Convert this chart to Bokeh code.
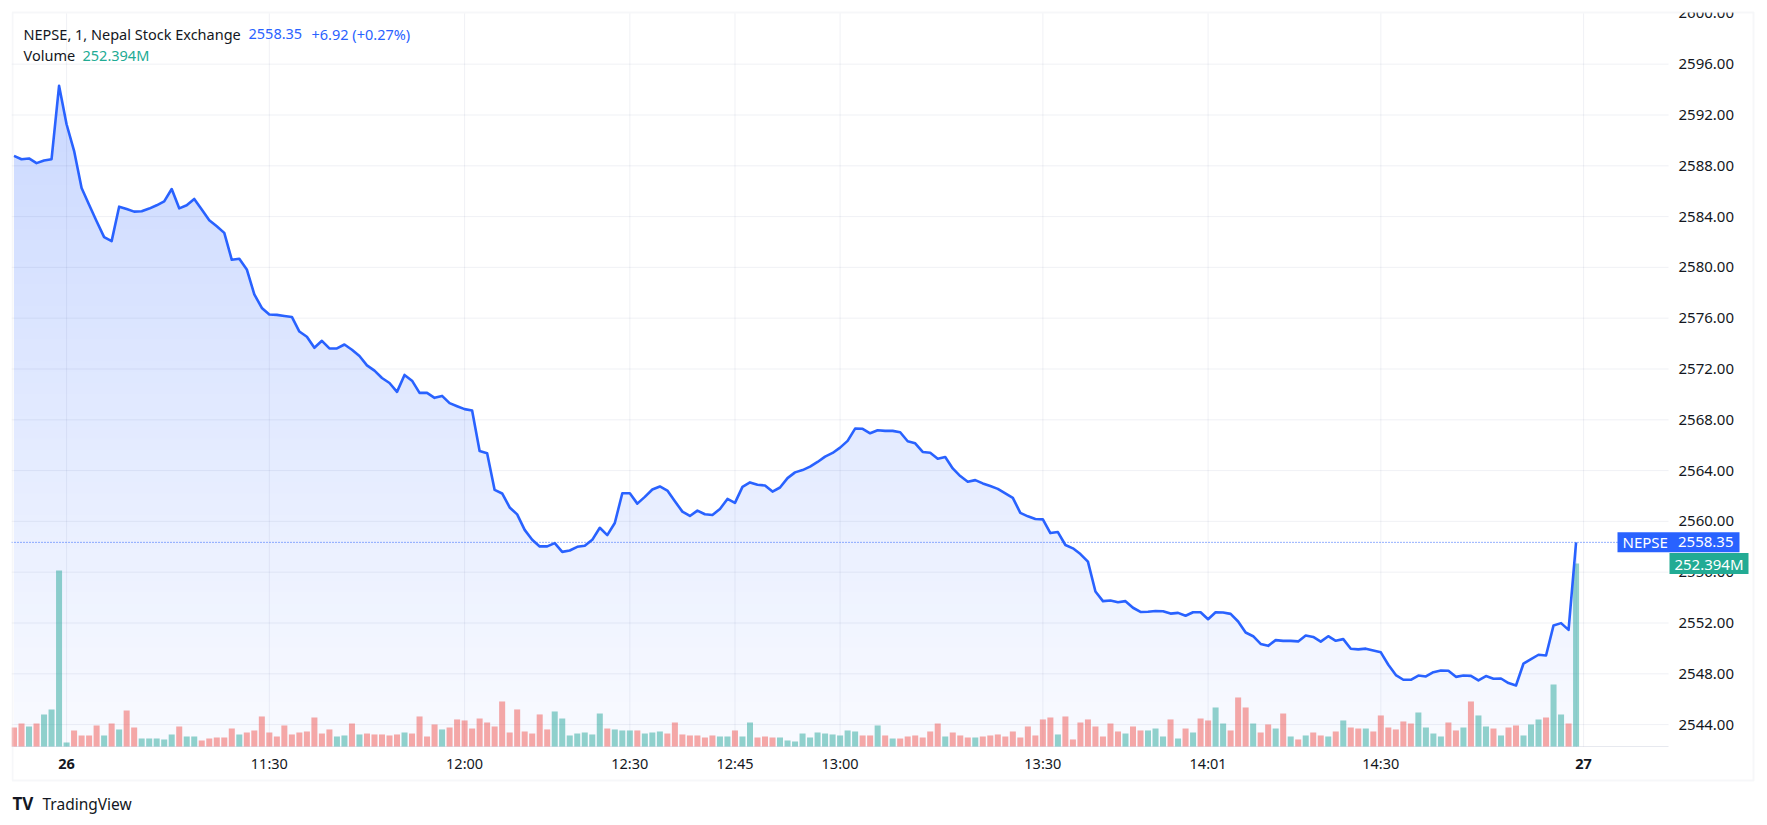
import numpy as np
from bokeh.plotting import figure
from bokeh.models import (Range1d, FixedTicker, NumeralTickFormatter, Label,
                          BoxAnnotation, ColumnDataSource)
from bokeh.embed import file_html
from bokeh.resources import INLINE

# ---------------- data ----------------
price = [
    2588.78, 2588.52, 2588.58, 2588.21, 2588.42, 2588.52, 2594.30, 2591.27, 2589.18, 2586.25,
    2584.94, 2583.63, 2582.38, 2582.07, 2584.78, 2584.60, 2584.39, 2584.42, 2584.63, 2584.89,
    2585.20, 2586.17, 2584.65, 2584.89, 2585.39, 2584.55, 2583.71, 2583.24, 2582.72, 2580.60,
    2580.68, 2579.84, 2577.88, 2576.81, 2576.29, 2576.26, 2576.18, 2576.10, 2574.95, 2574.54,
    2573.67, 2574.22, 2573.62, 2573.62, 2573.93, 2573.52, 2573.02, 2572.29, 2571.87, 2571.29,
    2570.90, 2570.20, 2571.53, 2571.08, 2570.12, 2570.12, 2569.73, 2569.88, 2569.31, 2569.07,
    2568.84, 2568.73, 2565.54, 2565.36, 2562.48, 2562.20, 2561.10, 2560.55, 2559.33, 2558.55,
    2558.03, 2558.03, 2558.29, 2557.60, 2557.71, 2558.00, 2558.08, 2558.55, 2559.50, 2558.92,
    2559.87, 2562.22, 2562.22, 2561.40, 2561.93, 2562.51, 2562.75, 2562.43, 2561.59, 2560.77,
    2560.43, 2560.85, 2560.56, 2560.51, 2560.98, 2561.77, 2561.46, 2562.72, 2563.07, 2562.88,
    2562.83, 2562.35, 2562.67, 2563.41, 2563.86, 2564.04, 2564.31, 2564.68, 2565.10, 2565.39,
    2565.81, 2566.34, 2567.31, 2567.29, 2566.94, 2567.18, 2567.13, 2567.13, 2567.02, 2566.31,
    2566.15, 2565.47, 2565.41, 2564.94, 2565.07, 2564.17, 2563.57, 2563.12, 2563.25, 2562.99,
    2562.78, 2562.56, 2562.20, 2561.85, 2560.67, 2560.40, 2560.19, 2560.16, 2559.08, 2559.16,
    2558.14, 2557.88, 2557.43, 2556.83, 2554.48, 2553.72, 2553.77, 2553.63, 2553.72, 2553.20,
    2552.87, 2552.88, 2552.95, 2552.93, 2552.74, 2552.80, 2552.57, 2552.85, 2552.85, 2552.30,
    2552.85, 2552.83, 2552.72, 2552.12, 2551.25, 2550.96, 2550.35, 2550.20, 2550.65, 2550.59,
    2550.59, 2550.55, 2551.01, 2550.90, 2550.53, 2550.96, 2550.60, 2550.73, 2549.97, 2549.92,
    2549.98, 2549.84, 2549.69, 2548.71, 2547.90, 2547.53, 2547.53, 2547.86, 2547.79, 2548.13,
    2548.26, 2548.24, 2547.76, 2547.87, 2547.84, 2547.48, 2547.82, 2547.61, 2547.63, 2547.27,
    2547.08, 2548.81, 2549.15, 2549.50, 2549.44, 2551.81, 2551.99, 2551.46, 2558.35,
]

volume_m = [
    26.2, 31.7, 27.6, 31.7, 44.2, 51.1, 242.7, 5.5, 22.1, 15.2,
    15.2, 29.0, 15.2, 31.7, 23.5, 49.7, 26.2, 11.0, 11.0, 11.0,
    9.7, 16.6, 27.6, 13.8, 13.8, 8.3, 11.0, 12.4, 12.4, 24.8,
    16.6, 19.3, 22.1, 41.4, 19.3, 13.8, 29.0, 16.6, 19.3, 20.7,
    40.0, 17.9, 23.5, 13.8, 15.2, 31.7, 16.6, 17.9, 16.6, 16.6,
    15.2, 16.6, 19.3, 17.9, 41.4, 13.8, 30.4, 23.5, 26.2, 37.3,
    35.9, 24.8, 38.6, 33.1, 27.6, 62.1, 19.3, 51.1, 20.7, 17.9,
    44.2, 23.5, 48.3, 38.6, 15.2, 17.9, 19.3, 16.6, 45.5, 24.8,
    23.5, 22.1, 22.1, 22.1, 17.9, 19.3, 20.7, 17.9, 33.1, 16.6,
    15.2, 15.2, 12.4, 15.2, 13.8, 13.8, 22.1, 13.8, 33.1, 12.4,
    13.8, 12.4, 12.4, 8.3, 6.9, 17.9, 12.4, 19.3, 17.9, 16.6,
    15.2, 22.1, 20.7, 15.2, 15.2, 29.0, 15.2, 11.0, 11.0, 13.8,
    15.2, 12.4, 20.7, 31.7, 13.8, 19.3, 15.2, 12.4, 12.4, 13.8,
    15.2, 16.6, 13.8, 20.7, 12.4, 27.6, 15.2, 37.3, 40.0, 16.6,
    41.4, 9.7, 33.1, 37.3, 27.6, 13.8, 31.7, 20.7, 17.9, 27.6,
    22.1, 22.1, 24.8, 13.8, 37.3, 11.0, 24.8, 19.3, 38.6, 35.9,
    53.8, 31.7, 22.1, 67.6, 53.8, 31.7, 19.3, 30.4, 24.8, 45.5,
    13.8, 9.7, 15.2, 19.3, 15.2, 13.8, 20.7, 35.9, 26.2, 24.8,
    24.8, 20.7, 42.8, 26.2, 23.5, 34.5, 31.7, 46.9, 26.2, 17.9,
    13.8, 33.1, 22.1, 26.2, 62.1, 42.8, 27.6, 24.8, 15.2, 26.2,
    29.0, 15.2, 30.4, 37.3, 40.0, 85.6, 44.2, 31.7, 252.394,
]

# u = up bar (green volume), d = down bar (red volume), 10 bars per chunk
direction = "".join([
    "dduduuuudd", "ddududduuu", "uuduuddddd", "uddddddddd", "ddduududdd",
    "dduddddudd", "dddddddddd", "dduuuuuuud", "uuuduuuddd", "dddduuduud",
    "dduuuuuuuu", "uuuddududd", "ddddudddud", "dddddddddu", "ddddddddud",
    "duuudududd", "uuddduddud", "ududdududd", "udddddduuu", "udduduudud",
    "duuuduudu",
])

time_tick_idx = [7, 34, 60, 82, 96, 110, 137, 159, 182, 209]
time_tick_labels = ["26", "11:30", "12:00", "12:30", "12:45", "13:00", "13:30", "14:01", "14:30", "27"]
bold_ticks = ["26", "27"]
price_ticks = [2544, 2548, 2552, 2556, 2560, 2564, 2568, 2572, 2576, 2580, 2584, 2588, 2592, 2596, 2600]

symbol_text = "NEPSE, 1, Nepal Stock Exchange"
last_text = "2558.35"
change_text = "+6.92 (+0.27%)"

# ---------------- styling ----------------
BLUE = "#2962ff"
TEAL = "#22ab94"
TXT = "#131722"
UP = "#26a69a"
DN = "#ef5350"
FONT = "Noto Sans"
GRID = "#3b4a7a"

n = len(price)
idx = np.arange(n)
price_a = np.array(price)
vol_a = np.array(volume_m)
vcolors = [UP if d == "u" else DN for d in direction[:n]]

# page geometry (page px): frame covers the whole chart incl. the axis bands
FL, FT, FR, FB = 11, 0, 1756, 818
W, H = FR + 5, FB + 5
BAR_PX = 7.51          # px per bar
PX_PER_UNIT = 12.70    # px per price unit
BAR0 = 13.5            # page x of first bar
P2600 = 12.9           # page y of 2600
PANE_R, PANE_B = 1668, 746

xr = Range1d((FL - BAR0) / BAR_PX, (FR - BAR0) / BAR_PX)
yr = Range1d(2600 - (FB - P2600) / PX_PER_UNIT, 2600 + (P2600 - FT) / PX_PER_UNIT)
VOL_K = volume_m[-1] / (746 - 563)   # M per px (last bar height)
vr = Range1d(-(FB - PANE_B) * VOL_K, (PANE_B - FT) * VOL_K)

def X(px):
    return xr.start + (px - FL) / BAR_PX

def Y(py):
    return yr.end - (py - FT) / PX_PER_UNIT

base = Y(PANE_B)
pane_right = X(PANE_R)

p = figure(width=W, height=H, x_range=xr, y_range=yr, y_axis_location="right",
           output_backend="svg", toolbar_location=None,
           min_border_left=FL, min_border_right=5, min_border_top=FT, min_border_bottom=5,
           background_fill_color="white", border_fill_color="white")
p.extra_y_ranges = {"vol": vr}
p.outline_line_color = None
p.xgrid.visible = False
p.ygrid.visible = False

# gradient area under the line
top = price_a.max()
nb = 60
for k in range(nb):
    hi = top - k * (top - base) / nb
    t = (hi - base) / (top - base)
    a = 0.025 + 0.22 * t
    col = "#%02x%02x%02x" % (int(round(255 - a * (255 - 41))), int(round(255 - a * (255 - 98))), 255)
    p.varea(x=idx, y1=base, y2=np.minimum(price_a, hi), fill_color=col)

# grid lines (pane only)
hticks = [t for t in price_ticks if t < 2600]
p.segment(x0=[xr.start] * len(hticks), x1=[pane_right] * len(hticks), y0=hticks, y1=hticks,
          line_color=GRID, line_alpha=0.08, line_width=1)
p.segment(x0=time_tick_idx, x1=time_tick_idx, y0=[base] * len(time_tick_idx),
          y1=[Y(13)] * len(time_tick_idx), line_color=GRID, line_alpha=0.08, line_width=1)
# pane / time-scale separator
p.segment(x0=[xr.start], x1=[pane_right], y0=[base], y1=[base],
          line_color=GRID, line_alpha=0.12, line_width=1)

# volume
vsrc = ColumnDataSource(dict(x=idx, top=vol_a, color=vcolors))
p.vbar(x="x", top="top", bottom=0, width=0.8, source=vsrc, y_range_name="vol",
       fill_color="color", fill_alpha=0.5, line_color=None)

# price line
p.line(idx, price_a, line_color=BLUE, line_width=2.6, line_join="round")

# last price dotted line (pane only)
p.segment(x0=[xr.start], x1=[pane_right], y0=[price[-1]], y1=[price[-1]],
          line_color=BLUE, line_width=1, line_dash="1 2")

# axes (labels placed inside the frame bands with negative standoff)
ya = p.yaxis[0]
ya.ticker = FixedTicker(ticks=price_ticks)
ya.formatter = NumeralTickFormatter(format="0.00")
ya.major_label_text_font = FONT
ya.major_label_text_font_size = "15px"
ya.major_label_text_color = TXT
ya.axis_line_color = None
ya.major_tick_line_color = None
ya.minor_tick_line_color = None
ya.major_tick_out = 0
ya.major_tick_in = 0
ya.minor_tick_out = 0
ya.major_label_standoff = 1678 - FR

xa = p.xaxis[0]
xa.ticker = FixedTicker(ticks=time_tick_idx)
xa.major_label_overrides = {i: ("" if l in bold_ticks else l) for i, l in zip(time_tick_idx, time_tick_labels)}
xa.major_label_text_font = FONT
xa.major_label_text_font_size = "14.5px"
xa.major_label_text_color = TXT
xa.axis_line_color = None
xa.major_tick_line_color = None
xa.minor_tick_line_color = None
xa.major_tick_out = 0
xa.major_tick_in = 0
xa.minor_tick_out = 0
xa.major_label_standoff = int(763 - FB - 11)

for i, l in zip(time_tick_idx, time_tick_labels):
    if l in bold_ticks:
        p.add_layout(Label(x=i, y=Y(763), text=l, text_font=FONT, text_font_size="14.5px",
                           text_font_style="bold", text_color=TXT,
                           text_align="center", text_baseline="middle"))

# white mask above the chart border (clips the top tick label like the reference)
p.add_layout(BoxAnnotation(left=X(FL), right=X(FR), top=Y(FT), bottom=Y(12),
                           fill_color="white", fill_alpha=1, line_color=None))
# outer border
p.add_layout(BoxAnnotation(left=X(12), right=X(1753), top=Y(12), bottom=Y(780),
                           fill_alpha=0, line_color="#e0e3eb", line_width=2))

def lab(x, y, text, color, size="14.5px", style="normal", align="left"):
    p.add_layout(Label(x=X(x), y=Y(y), text=text, text_font=FONT, text_font_size=size,
                       text_font_style=style, text_color=color, text_align=align,
                       text_baseline="middle"))

lab(23, 33, symbol_text, TXT)
lab(248, 33, last_text, BLUE)
lab(311, 33, change_text, BLUE)
lab(23, 54, "Volume", TXT)
lab(82, 54, "%.3fM" % volume_m[-1], TEAL)

# price scale tags
pt = price[-1]
h = 10 / PX_PER_UNIT
p.add_layout(BoxAnnotation(left=X(1617), right=X(1739), bottom=pt - h, top=pt + h,
                           fill_color=BLUE, fill_alpha=1, line_color=None))
p.add_layout(Label(x=X(1622), y=pt, text="NEPSE", text_font=FONT, text_font_size="15px",
                   text_color="white", text_align="left", text_baseline="middle"))
p.add_layout(Label(x=X(1733), y=pt, text="%.2f" % pt, text_font=FONT, text_font_size="15px",
                   text_color="white", text_align="right", text_baseline="middle"))

vt = volume_m[-1]
vh = 10.5 * VOL_K
p.add_layout(BoxAnnotation(left=X(1669), right=X(1748), bottom=vt - vh, top=vt + vh,
                           y_range_name="vol", fill_color=TEAL, fill_alpha=1, line_color=None))
p.add_layout(Label(x=X(1708.5), y=vt, y_range_name="vol", text="%.3fM" % vt, text_font=FONT,
                   text_font_size="15px", text_color="white", text_align="center",
                   text_baseline="middle"))

# TradingView mark
lab(12, 803, "TV", TXT, size="17px", style="bold")
lab(42, 803, "TradingView", TXT, size="15.5px")

open("out.html", "w").write(file_html(p, INLINE))
